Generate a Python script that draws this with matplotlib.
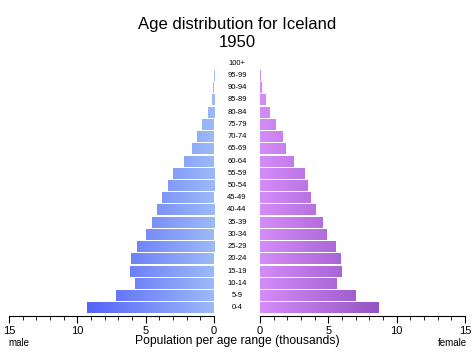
import matplotlib
matplotlib.use('Agg')
import matplotlib.pyplot as plt
import numpy as np
from matplotlib.colors import LinearSegmentedColormap
from matplotlib.ticker import MultipleLocator
from matplotlib.transforms import blended_transform_factory

plt.rcParams['font.family'] = ['Liberation Sans', 'DejaVu Sans']

age_groups = ['0-4', '5-9', '10-14', '15-19', '20-24', '25-29', '30-34',
              '35-39', '40-44', '45-49', '50-54', '55-59', '60-64', '65-69',
              '70-74', '75-79', '80-84', '85-89', '90-94', '95-99', '100+']
male = [9.29, 7.17, 5.78, 6.14, 6.07, 5.66, 4.97, 4.54, 4.19, 3.80, 3.39,
        3.02, 2.19, 1.59, 1.24, 0.85, 0.44, 0.17, 0.04, 0.01, 0.0]
female = [8.70, 7.02, 5.63, 5.97, 5.90, 5.49, 4.88, 4.54, 4.05, 3.73, 3.49,
          3.22, 2.44, 1.88, 1.66, 1.17, 0.73, 0.39, 0.12, 0.02, 0.0]

W, H = 474, 354
fig = plt.figure(figsize=(W / 100, H / 100), dpi=100)

ax_m = fig.add_axes([9 / W, 38 / H, 205 / W, 260 / H])
ax_f = fig.add_axes([260 / W, 38 / H, 205 / W, 260 / H])

male_cmap = LinearSegmentedColormap.from_list('m', ['#9cbaf8', '#5360f8'])
female_cmap = LinearSegmentedColormap.from_list('f', ['#d48cf8', '#8e4ebe'])

y = np.arange(len(age_groups))
grad = np.linspace(0, 1, 256).reshape(1, -1)


def draw_side(ax, values, cmap):
    bars = ax.barh(y, values, height=0.9, color='none', edgecolor='none')
    for rect in bars:
        im = ax.imshow(grad, cmap=cmap, extent=(0, 9.6, -1, 21),
                       aspect='auto', interpolation='bilinear', zorder=2)
        im.set_clip_path(rect)
    ax.set_xlim(0, 15)
    ax.set_ylim(-0.68, 20.6)
    for s in ['top', 'left', 'right']:
        ax.spines[s].set_visible(False)
    ax.spines['bottom'].set_linewidth(0.8)
    ax.set_yticks([])
    ax.xaxis.set_major_locator(MultipleLocator(5))
    ax.xaxis.set_minor_locator(MultipleLocator(1))
    ax.tick_params(axis='x', which='major', length=5, width=0.8,
                   labelsize=8, pad=2)
    ax.tick_params(axis='x', which='minor', length=3, width=0.6)


draw_side(ax_m, male, male_cmap)
draw_side(ax_f, female, female_cmap)
ax_m.invert_xaxis()

# age labels in the gap between the two halves
trans = blended_transform_factory(fig.transFigure, ax_m.transData)
for yi, lab in zip(y, age_groups):
    fig.text(237 / W, yi, lab, transform=trans, ha='center', va='center',
             fontsize=5.5)

fig.text(237 / W, 1 - 33.5 / H, 'Age distribution for Iceland\n1950',
         ha='center', va='center', fontsize=12, linespacing=1.25)
fig.text(237 / W, 1 - 341 / H, 'Population per age range (thousands)',
         ha='center', va='center', fontsize=8.7)
fig.text(8 / W, 1 - 343 / H, 'male', ha='left', va='center', fontsize=7)
fig.text(467 / W, 1 - 343 / H, 'female', ha='right', va='center', fontsize=7)

fig.savefig('out.png', dpi=100)
